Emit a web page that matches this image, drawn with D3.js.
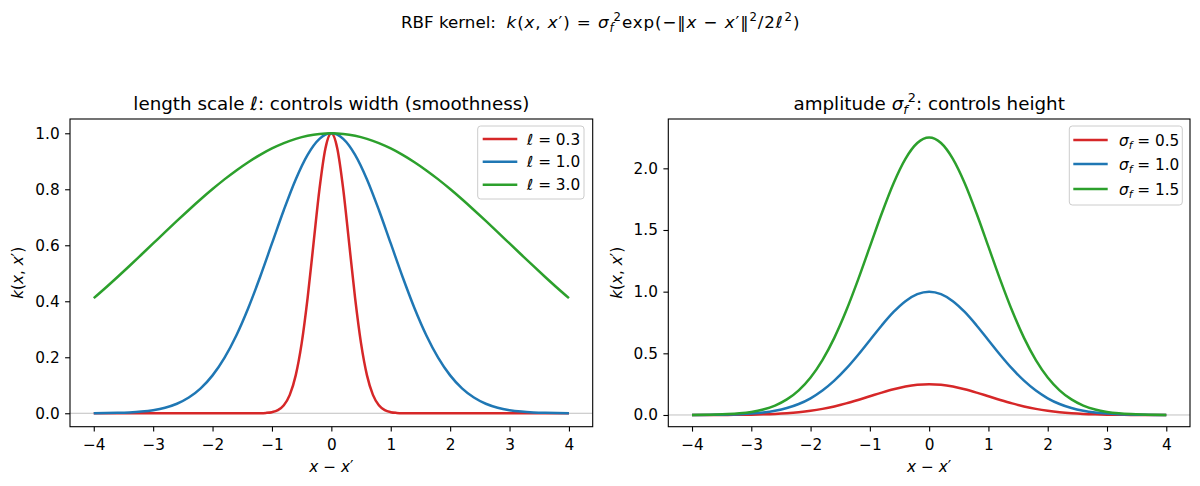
<!DOCTYPE html>
<html><head><meta charset="utf-8">
<script src="https://cdn.jsdelivr.net/npm/d3@7"></script>
<style>
body{margin:0;background:#fff;}
text{font-family:"DejaVu Sans",sans-serif;white-space:pre;}
</style></head>
<body><svg id="c" width="1200" height="486"></svg>
<script>
// ---- data ----
const xWide = [-4,-3.8,-3.6,-3.4,-3.2,-3,-2.8,-2.6,-2.4,-2.2,-2,-1.8,-1.6,-1.4,-1.2,-1,-0.8,-0.6,-0.4,-0.2,0,0.2,0.4,0.6,0.8,1,1.2,1.4,1.6,1.8,2,2.2,2.4,2.6,2.8,3,3.2,3.4,3.6,3.8,4];
const xNarrow = [-4,-3,-2,-1.5,-1.2,-1.1,-1,-0.9,-0.8,-0.7,-0.6,-0.5,-0.4,-0.3,-0.2,-0.1,0,0.1,0.2,0.3,0.4,0.5,0.6,0.7,0.8,0.9,1,1.1,1.2,1.5,2,3,4];
const len03 = [0,0,0,0,0.0003,0.0012,0.0039,0.0111,0.0286,0.0657,0.1353,0.2494,0.4111,0.6065,0.8007,0.9460,1.0,0.9460,0.8007,0.6065,0.4111,0.2494,0.1353,0.0657,0.0286,0.0111,0.0039,0.0012,0.0003,0,0,0,0];
const len10 = [0.0003,0.0007,0.0015,0.0031,0.0060,0.0111,0.0198,0.0340,0.0561,0.0889,0.1353,0.1979,0.2780,0.3753,0.4868,0.6065,0.7261,0.8353,0.9231,0.9802,1.0,0.9802,0.9231,0.8353,0.7261,0.6065,0.4868,0.3753,0.2780,0.1979,0.1353,0.0889,0.0561,0.0340,0.0198,0.0111,0.0060,0.0031,0.0015,0.0007,0.0003];
const len30 = [0.4111,0.4483,0.4868,0.5261,0.5662,0.6065,0.6469,0.6869,0.7261,0.7642,0.8007,0.8353,0.8674,0.8968,0.9231,0.9460,0.9651,0.9802,0.9912,0.9978,1.0,0.9978,0.9912,0.9802,0.9651,0.9460,0.9231,0.8968,0.8674,0.8353,0.8007,0.7642,0.7261,0.6869,0.6469,0.6065,0.5662,0.5261,0.4868,0.4483,0.4111];
const amp05 = [0.0001,0.0002,0.0004,0.0008,0.0015,0.0028,0.0050,0.0085,0.0140,0.0222,0.0338,0.0495,0.0695,0.0938,0.1217,0.1516,0.1815,0.2088,0.2308,0.2451,0.25,0.2451,0.2308,0.2088,0.1815,0.1516,0.1217,0.0938,0.0695,0.0495,0.0338,0.0222,0.0140,0.0085,0.0050,0.0028,0.0015,0.0008,0.0004,0.0002,0.0001];
const amp10 = [0.0003,0.0007,0.0015,0.0031,0.0060,0.0111,0.0198,0.0340,0.0561,0.0889,0.1353,0.1979,0.2780,0.3753,0.4868,0.6065,0.7261,0.8353,0.9231,0.9802,1.0,0.9802,0.9231,0.8353,0.7261,0.6065,0.4868,0.3753,0.2780,0.1979,0.1353,0.0889,0.0561,0.0340,0.0198,0.0111,0.0060,0.0031,0.0015,0.0007,0.0003];
const amp15 = [0.0008,0.0016,0.0034,0.0070,0.0135,0.0250,0.0446,0.0765,0.1262,0.2000,0.3044,0.4453,0.6255,0.8444,1.0953,1.3646,1.6337,1.8794,2.0770,2.2055,2.25,2.2055,2.0770,1.8794,1.6337,1.3646,1.0953,0.8444,0.6255,0.4453,0.3044,0.2000,0.1262,0.0765,0.0446,0.0250,0.0135,0.0070,0.0034,0.0016,0.0008];
const xTicks = [-4,-3,-2,-1,0,1,2,3,4];
const yTicksLeft = [0,0.2,0.4,0.6,0.8,1.0];
const yTicksRight = [0,0.5,1.0,1.5,2.0];
const leftLabels = ["0.3","1.0","3.0"];
const rightLabels = ["0.5","1.0","1.5"];
const colors = ["#d62728","#1f77b4","#2ca02c"];

// ---- drawing ----
const svg = d3.select("#c");
const FS = 15.3, TS = 18.3, SS = 16.7;

function rich(t, segs, size){
  let off = 0;
  segs.forEach(s=>{
    const ts = t.append("tspan").text(s.t);
    const target = s.sup ? -0.42*size : (s.sub ? 0.22*size : 0);
    if (target - off !== 0) ts.attr("dy", target - off);
    off = target;
    if (s.sup || s.sub) ts.attr("font-size", size*0.7);
    if (s.i) ts.attr("font-style","italic");
    if (s.dx) ts.attr("dx", s.dx);
    if (s.ls) ts.attr("letter-spacing", s.ls);
  });
  return t;
}

const M = 0.9;
rich(svg.append("text").attr("x",401).attr("y",28).attr("font-size",SS),
 [{t:"RBF kernel:  "},{t:"k",i:1,ls:M},{t:"(",ls:M},{t:"x",i:1,ls:M},{t:", ",ls:M},{t:"x",i:1,ls:M},{t:"′) = ",ls:M},{t:"σ",i:1,ls:M},{t:"f",i:1,sub:1},{t:"2",sup:1,ls:M},
  {t:"exp(−‖",ls:M},{t:"x",i:1,ls:M},{t:" − ",ls:M},{t:"x",i:1,ls:M},{t:"′‖",ls:M},{t:"2",sup:1,ls:M},{t:"/2",ls:M},{t:"ℓ",i:1,ls:M},{t:"2",sup:1,dx:1},{t:")",dx:1}],SS);

function panel(opt){
  const g = svg.append("g");
  const x = d3.scaleLinear().domain([-4.4,4.4]).range([opt.left, opt.right]);
  const y = d3.scaleLinear().domain(opt.ydom).range([426.7,119]);
  g.append("line").attr("x1",opt.left).attr("x2",opt.right).attr("y1",y(0)).attr("y2",y(0))
    .attr("stroke","#b0b0b0").attr("stroke-width",0.8);
  const line = d3.line().x(d=>x(d[0])).y(d=>y(d[1])).curve(d3.curveMonotoneX);
  opt.series.forEach((s,i)=>{
    g.append("path").attr("d", line(s.xs.map((v,j)=>[v,s.ys[j]])))
      .attr("fill","none").attr("stroke",colors[i]).attr("stroke-width",2.5).attr("stroke-linejoin","round");
  });
  const ax = g.append("g").attr("transform",`translate(0,426.7)`)
    .call(d3.axisBottom(x).tickValues(xTicks).tickFormat(d3.format("d")).tickSize(4.9).tickPadding(7.5).tickSizeOuter(0));
  const ay = g.append("g").attr("transform",`translate(${opt.left},0)`)
    .call(d3.axisLeft(y).tickValues(opt.yticks).tickFormat(d3.format(".1f")).tickSize(4.9).tickPadding(5.5).tickSizeOuter(0));
  [ax,ay].forEach(a=>{
    a.select(".domain").remove();
    a.selectAll("line").attr("stroke","#000").attr("stroke-width",1.1);
    a.selectAll("text").attr("font-size",FS).attr("font-family","DejaVu Sans").attr("fill","#000");
  });
  g.append("rect").attr("x",opt.left).attr("y",119).attr("width",opt.right-opt.left).attr("height",426.7-119)
    .attr("fill","none").attr("stroke","#000").attr("stroke-width",1.1);
  rich(g.append("text").attr("x",(opt.left+opt.right)/2).attr("y",109.5).attr("text-anchor","middle").attr("font-size",TS), opt.title,TS);
  rich(g.append("text").attr("x",(opt.left+opt.right)/2).attr("y",471.5).attr("text-anchor","middle").attr("font-size",FS),
    [{t:"x",i:1},{t:" − "},{t:"x",i:1},{t:"′"}],FS);
  rich(g.append("text").attr("transform",`translate(${opt.ylx},272.8) rotate(-90)`).attr("text-anchor","middle").attr("font-size",FS),
    [{t:"k",i:1},{t:"("},{t:"x",i:1},{t:", "},{t:"x",i:1},{t:"′)"}],FS);
  const L = opt.legend;
  g.append("rect").attr("x",L.x0).attr("y",L.y0).attr("width",L.x1-L.x0).attr("height",L.y1-L.y0)
    .attr("rx",3).attr("fill","#fff").attr("fill-opacity",0.8).attr("stroke","#cccccc").attr("stroke-width",1);
  L.rows.forEach((r,i)=>{
    g.append("line").attr("x1",L.lx0).attr("x2",L.lx1).attr("y1",r).attr("y2",r)
      .attr("stroke",colors[i]).attr("stroke-width",2.5);
    rich(g.append("text").attr("x",L.tx).attr("y",r+5.5).attr("font-size",FS), L.label(i),FS);
  });
}

panel({left:70,right:592.7,ydom:[-0.048,1.051],yticks:yTicksLeft,ylx:23,
  series:[{xs:xNarrow,ys:len03},{xs:xWide,ys:len10},{xs:xWide,ys:len30}],
  title:[{t:"length scale "},{t:"ℓ",i:1},{t:": controls width (smoothness)"}],
  legend:{x0:477.7,x1:584,y0:126,y1:199,lx0:482.7,lx1:517.3,tx:527,rows:[139,161.7,184.7],
    label:i=>[{t:"ℓ",i:1},{t:" = "+leftLabels[i]}]}
});
panel({left:668.3,right:1190,ydom:[-0.095,2.40],yticks:yTicksRight,ylx:622,
  series:[{xs:xWide,ys:amp05},{xs:xWide,ys:amp10},{xs:xWide,ys:amp15}],
  title:[{t:"amplitude "},{t:"σ",i:1},{t:"f",i:1,sub:1},{t:"2",sup:1},{t:": controls height"}],
  legend:{x0:1069.3,x1:1182.3,y0:126,y1:205,lx0:1073.3,lx1:1107.7,tx:1119,rows:[140,164,189],
    label:i=>[{t:"σ",i:1},{t:"f",i:1,sub:1},{t:" = "+rightLabels[i]}]}
});
</script></body></html>
